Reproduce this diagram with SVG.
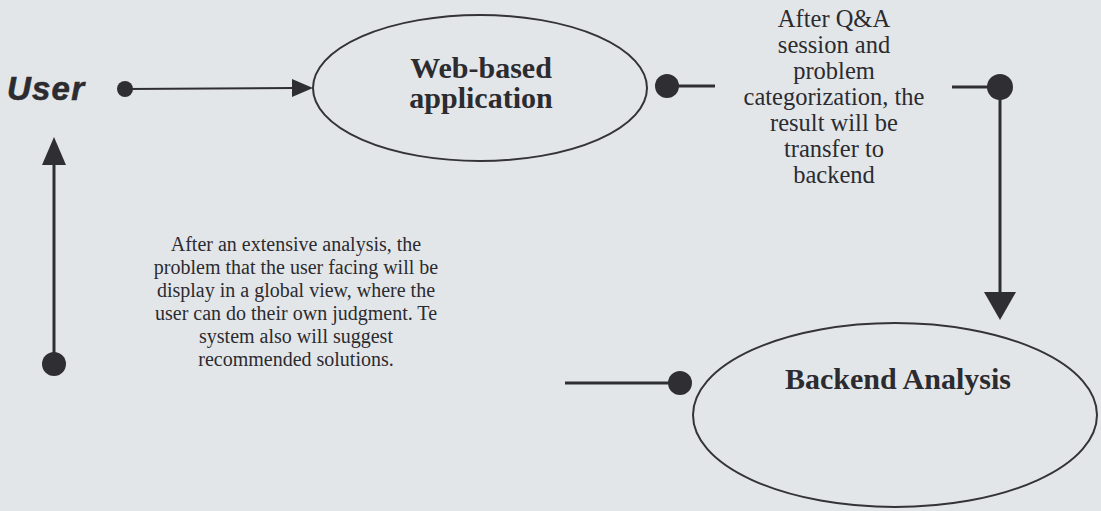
<svg xmlns="http://www.w3.org/2000/svg" width="1101" height="511" viewBox="0 0 1101 511">
<style>
.bg{fill:#e3e6e9}
.node{fill:none;stroke:#333338;stroke-width:2}
.line{stroke:#2e2e33;stroke-width:3;fill:none}
.thin{stroke:#2e2e33;stroke-width:2;fill:none}
.dot{fill:#2e2e33}
.title{font-family:"Liberation Serif","Times New Roman",serif;font-weight:bold;font-size:30px;fill:#2b2b30;text-anchor:middle}
.note{font-family:"Liberation Serif","Times New Roman",serif;fill:#2b2b30;text-anchor:middle}
.n1{font-size:20px}
.n2{font-size:24.5px}
.user{font-family:"Liberation Sans",Arial,sans-serif;font-weight:bold;font-style:italic;font-size:33px;letter-spacing:1.2px;fill:#2b2b30;stroke:#2b2b30;stroke-width:0.6px}
</style>
<rect class="bg" x="0" y="0" width="1101" height="511"/>
<g id="user">
<text class="user" x="7" y="100">User</text>
</g>
<g id="web">
<ellipse class="node" cx="480" cy="88" rx="167" ry="73"/>
<text class="title" x="481" y="78">Web-based</text>
<text class="title" x="481" y="108">application</text>
</g>
<g id="backend">
<ellipse class="node" cx="895" cy="415" rx="202" ry="92"/>
<text class="title" x="898" y="389">Backend Analysis</text>
</g>
<g id="note-transfer">
<text class="note n2" x="834" y="27">After Q&amp;A</text>
<text class="note n2" x="834" y="53">session and</text>
<text class="note n2" x="834" y="79">problem</text>
<text class="note n2" x="834" y="105">categorization, the</text>
<text class="note n2" x="834" y="131">result will be</text>
<text class="note n2" x="834" y="157">transfer to</text>
<text class="note n2" x="834" y="183">backend</text>
</g>
<g id="note-result">
<text class="note n1" x="296" y="251">After an extensive analysis, the</text>
<text class="note n1" x="296" y="274">problem that the user facing will be</text>
<text class="note n1" x="296" y="297">display in a global view, where the</text>
<text class="note n1" x="296" y="320">user can do their own judgment. Te</text>
<text class="note n1" x="296" y="343">system also will suggest</text>
<text class="note n1" x="296" y="366">recommended solutions.</text>
</g>
<g id="connectors">
<circle class="dot" cx="125" cy="89" r="8"/>
<line class="thin" x1="125" y1="89" x2="294" y2="88"/>
<path d="M292,79 L313,88 L292,97 z" class="dot"/>
<circle class="dot" cx="667" cy="86" r="12"/>
<line class="line" x1="667" y1="86" x2="715" y2="86"/>
<line class="line" x1="952" y1="87" x2="1000" y2="87"/>
<circle class="dot" cx="1000" cy="87" r="13"/>
<line class="line" x1="1000" y1="87" x2="1000" y2="295"/>
<path d="M984,292 L1016,292 L1000,320 z" class="dot"/>
<line class="line" x1="565" y1="383" x2="680" y2="383"/>
<circle class="dot" cx="680" cy="383" r="12"/>
<circle class="dot" cx="54" cy="364" r="12"/>
<line class="line" x1="54" y1="364" x2="54" y2="162"/>
<path d="M42,165 L66,165 L54,137 z" class="dot"/>
</g>
</svg>
